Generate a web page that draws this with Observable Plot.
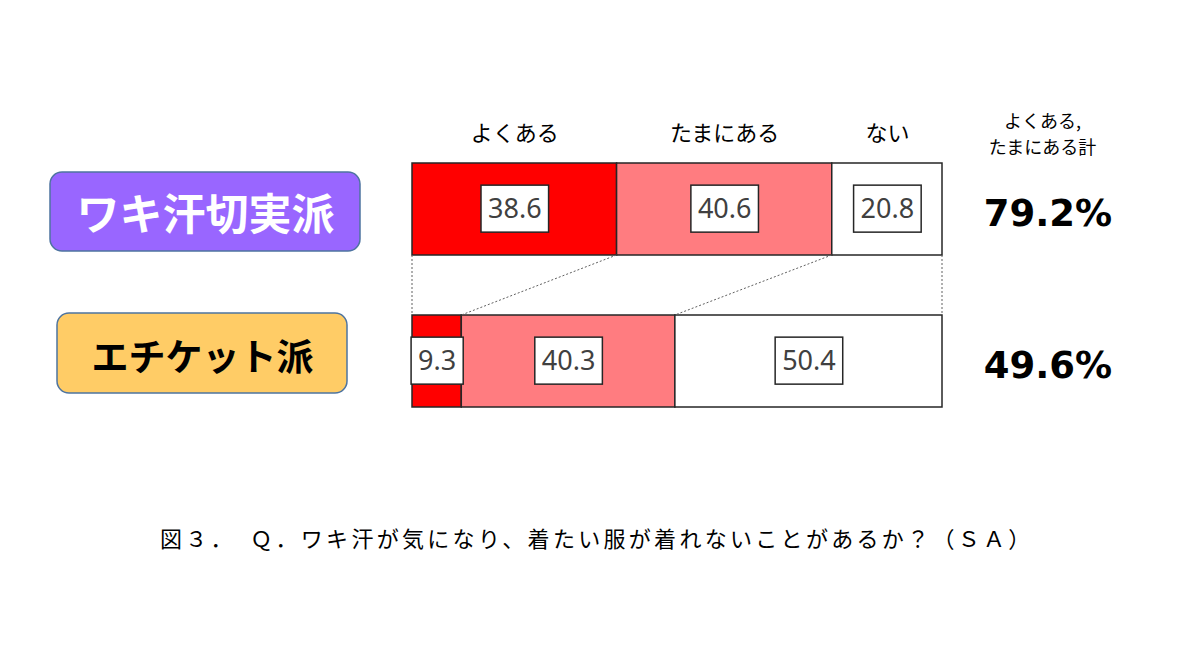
<!DOCTYPE html>
<html><head><meta charset="utf-8">
<script src="https://cdn.jsdelivr.net/npm/d3@7"></script>
<script src="https://cdn.jsdelivr.net/npm/@observablehq/plot@0.6"></script>
<style>
html,body{margin:0;padding:0;background:#fff;}
#caption{font-family:"Noto Sans CJK JP",sans-serif;font-size:22px;letter-spacing:3.3px;line-height:44px;padding-left:160px;color:#000;white-space:nowrap;}
</style>
</head><body>
<div id="chart"></div>
<div id="caption"></div>
<script>
// ---- data ----
const groups = ["ワキ汗切実派", "エチケット派"];
const categories = ["よくある", "たまにある", "ない"];
const wakiValues = [38.6, 40.6, 20.8];
const etiquetteValues = [9.3, 40.3, 50.4];
const totals = [79.2, 49.6];
const totalHeader = "よくある,\nたまにある計";
const captionText = "図３．　Ｑ．ワキ汗が気になり、着たい服が着れないことがあるか？（ＳＡ）";

// ---- styles ----
const colors = ["#FF0000", "#FF7C80", "#FFFFFF"];
const groupStyle = [
  {box: "#9966FF", text: "#FFFFFF", size: 43, cx: 205, boxW: 310, boxH: 79, boxDy: 2.5, textDy: 7},
  {box: "#FFCC66", text: "#000000", size: 37, cx: 202, boxW: 290, boxH: 80, boxDy: -8, textDy: -2}
];
const jp = "'Noto Sans CJK JP', sans-serif";

// build rows
const seriesByGroup = [wakiValues, etiquetteValues];
const rows = [];
const bounds = [];
groups.forEach((g, gi) => {
  let acc = 0;
  const b = [0];
  seriesByGroup[gi].forEach((v, ci) => {
    rows.push({group: g, category: categories[ci], value: v, x1: acc, x2: acc + v});
    acc += v;
    b.push(acc);
  });
  bounds.push(b);
});
const topRows = rows.filter(d => d.group === groups[0]);
const totalRows = groups.map((g, i) => ({group: g, total: totals[i]}));

const plot = Plot.plot({
  width: 1200,
  height: 515,
  margin: 0,
  x: {domain: [0, 100], range: [412, 942], axis: null},
  y: {type: "band", domain: groups, range: [163, 407], paddingInner: 0.395, paddingOuter: 0, axis: null},
  color: {domain: categories, range: colors},
  style: {background: "#fff", fontFamily: jp},
  marks: [
    Plot.barX(rows, {x1: "x1", x2: "x2", y: "group", fill: "category", stroke: "#262626", strokeWidth: 1.5}),
    Plot.text(rows, {x: d => (d.x1 + d.x2) / 2, y: "group", text: d => d.value.toFixed(1),
      fontSize: 27, fill: "#404040", fontFamily: "'Noto Sans', sans-serif"}),
    Plot.text(topRows, {x: d => (d.x1 + d.x2) / 2, y: "group", text: "category", dy: -76, fontSize: 22, fill: "#000"}),
    Plot.text([totalHeader], {x: () => 100, y: () => groups[0], text: d => d, dx: 100, dy: -77, fontSize: 18, lineHeight: 1.45, fill: "#000"}),
    Plot.text(totalRows, {x: () => 100, y: "group", text: d => d.total.toFixed(1) + "%", dx: 105.5, dy: 5,
      fontSize: 37, fontWeight: "bold", fontFamily: "'DejaVu Sans', sans-serif", fill: "#000"}),
    ...groups.map((g, i) => Plot.text([g], {x: () => 0, y: d => d, text: d => d, dx: groupStyle[i].cx - 412, dy: groupStyle[i].textDy,
      fontSize: groupStyle[i].size, fontWeight: "bold", fill: groupStyle[i].text}))
  ]
});

document.getElementById("chart").appendChild(plot);
document.getElementById("caption").textContent = captionText;

const xs = plot.scale("x"), ys = plot.scale("y");
const bw = ys.bandwidth;
const svg = d3.select(plot);
const NS = "http://www.w3.org/2000/svg";

// rounded label boxes behind group labels
const firstChild = plot.firstChild;
groups.forEach((g, i) => {
  const s = groupStyle[i];
  const cy = ys.apply(g) + bw / 2 + s.boxDy;
  const r = document.createElementNS(NS, "rect");
  r.setAttribute("x", s.cx - s.boxW / 2);
  r.setAttribute("y", cy - s.boxH / 2);
  r.setAttribute("width", s.boxW);
  r.setAttribute("height", s.boxH);
  r.setAttribute("rx", 12);
  r.setAttribute("fill", s.box);
  r.setAttribute("stroke", "#4E74A0");
  r.setAttribute("stroke-width", 1.5);
  plot.insertBefore(r, firstChild);
});

// dotted connectors
const yTopBottom = ys.apply(groups[0]) + bw;
const yBotTop = ys.apply(groups[1]);
svg.append("g").selectAll("line").data(bounds[0].map((b, i) => [b, bounds[1][i]])).join("line")
  .attr("x1", d => xs.apply(d[0])).attr("x2", d => xs.apply(d[1]))
  .attr("y1", yTopBottom).attr("y2", yBotTop)
  .attr("stroke", "#606060").attr("stroke-width", 1).attr("stroke-dasharray", "2,2");

// white boxes behind value labels
const labelSet = new Set(rows.map(d => d.value.toFixed(1)));
const labelTexts = Array.from(plot.querySelectorAll("text")).filter(t => labelSet.has(t.textContent.trim()));
labelTexts.forEach(t => {
  const bb = t.getBBox();
  const w = bb.width + 14, h = 47;
  const cx = bb.x + bb.width / 2, cy = bb.y + bb.height / 2 + 1;
  const r = document.createElementNS(NS, "rect");
  r.setAttribute("x", cx - w / 2);
  r.setAttribute("y", cy - h / 2);
  r.setAttribute("width", w);
  r.setAttribute("height", h);
  r.setAttribute("fill", "#fff");
  r.setAttribute("stroke", "#262626");
  r.setAttribute("stroke-width", 1.5);
  const tf = t.getAttribute("transform");
  if (tf) r.setAttribute("transform", tf);
  t.parentNode.insertBefore(r, t);
});
</script>
</body></html>
